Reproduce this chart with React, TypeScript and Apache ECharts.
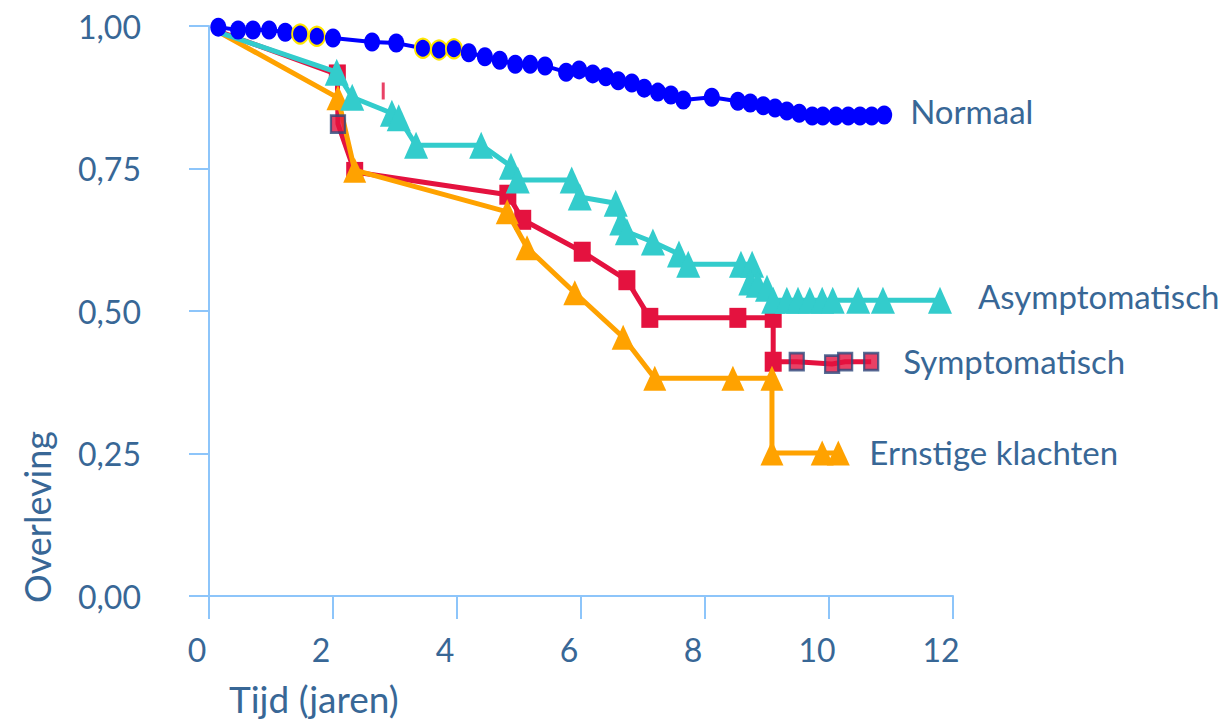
import React, { useEffect, useRef } from "react";
import * as echarts from "echarts";

// [tijd (jaren), overleving]
const normaal: [number, number][] = [
  [0.15, 0.998], [0.47, 0.993], [0.71, 0.993], [0.97, 0.993], [1.23, 0.989],
  [1.47, 0.986], [1.74, 0.982], [2.0, 0.979], [2.63, 0.972], [3.02, 0.97],
  [3.45, 0.961], [3.71, 0.958], [3.95, 0.96], [4.19, 0.953], [4.45, 0.946],
  [4.69, 0.94], [4.94, 0.933], [5.18, 0.933], [5.42, 0.93], [5.76, 0.919],
  [5.97, 0.923], [6.19, 0.916], [6.4, 0.911], [6.6, 0.904], [6.82, 0.9],
  [7.02, 0.891], [7.24, 0.884], [7.45, 0.879], [7.65, 0.87], [8.11, 0.875],
  [8.53, 0.868], [8.73, 0.865], [8.94, 0.86], [9.13, 0.856], [9.32, 0.851],
  [9.52, 0.847], [9.73, 0.842], [9.9, 0.842], [10.11, 0.842], [10.31, 0.842],
  [10.5, 0.842], [10.69, 0.842], [10.89, 0.844],
];
const normaalRing = [5, 6, 10, 11, 12];

const asymptomatisch: [number, number][] = [
  [0.1, 0.991], [2.06, 0.919], [2.31, 0.875], [2.95, 0.847], [3.06, 0.839],
  [3.34, 0.791], [4.39, 0.791], [4.87, 0.754], [4.98, 0.73], [5.85, 0.73],
  [5.98, 0.7], [6.56, 0.689], [6.65, 0.656], [6.74, 0.639], [7.16, 0.621],
  [7.58, 0.6], [7.73, 0.582], [8.58, 0.582], [8.76, 0.582], [8.73, 0.551],
  [8.85, 0.547], [9.0, 0.54], [9.1, 0.519], [9.32, 0.519], [9.5, 0.519],
  [9.69, 0.519], [9.89, 0.519], [10.06, 0.519], [10.47, 0.519], [10.87, 0.519],
  [11.79, 0.519],
];

const symptomatisch: [number, number][] = [
  [0.1, 0.993], [2.07, 0.915], [2.08, 0.828], [2.35, 0.744], [4.82, 0.704],
  [5.06, 0.66], [6.02, 0.604], [6.74, 0.554], [7.11, 0.488], [8.53, 0.488],
  [9.1, 0.488], [9.1, 0.411], [9.48, 0.411], [10.05, 0.407], [10.26, 0.411],
  [10.68, 0.411],
];
const symptomatischCensored = [2, 12, 13, 14, 15];
const symptomatischTick: [number, number][] = [[2.81, 0.886]];

const ernstig: [number, number][] = [
  [0.1, 0.993], [2.08, 0.874], [2.35, 0.747], [4.81, 0.674], [5.13, 0.611],
  [5.9, 0.532], [6.68, 0.454], [7.19, 0.382], [8.45, 0.382], [9.08, 0.382],
  [9.08, 0.251], [9.89, 0.251], [10.15, 0.251],
];

const seriesNames = ["Normaal", "Asymptomatisch", "Symptomatisch", "Ernstige klachten"];
const xTitle = "Tijd (jaren)";
const yTitle = "Overleving";

const TEXT = "#386796";
const AXIS = "#8DC5FA";
const FONT = "Lato, 'Liberation Sans', sans-serif";

export default function App() {
  const ref = useRef<HTMLDivElement>(null);
  useEffect(() => {
    document.body.style.margin = "0";
    const chart = echarts.init(ref.current!, null, { renderer: "svg" });

    const labelStyle = (distance: number, dy: number) => ({
      show: true,
      formatter: "{a}",
      distance,
      offset: [0, dy],
      color: TEXT,
      fontSize: 33,
      fontFamily: FONT,
    });

    chart.setOption({
      animation: false,
      grid: { left: 209, right: 273, top: 26, bottom: 127, containLabel: false },
      xAxis: {
        type: "value",
        min: 0,
        max: 12,
        interval: 2,
        axisLine: { show: true, lineStyle: { color: AXIS, width: 2 } },
        axisTick: { show: true, length: 23, lineStyle: { color: AXIS, width: 2 } },
        splitLine: { show: false },
        axisLabel: {
          color: TEXT,
          fontSize: 32,
          fontFamily: FONT,
          margin: 37,
          padding: [0, 24, 0, 0],
        },
      },
      yAxis: {
        type: "value",
        min: 0,
        max: 1,
        interval: 0.25,
        axisLine: { show: true, lineStyle: { color: AXIS, width: 2 } },
        axisTick: { show: true, length: 20, lineStyle: { color: AXIS, width: 2 } },
        splitLine: { show: false },
        axisLabel: {
          color: TEXT,
          fontSize: 32,
          fontFamily: FONT,
          margin: 68,
          formatter: (v: number) => v.toFixed(2).replace(".", ","),
        },
      },
      graphic: [
        {
          type: "text",
          x: 37,
          y: 517,
          rotation: Math.PI / 2,
          style: {
            text: yTitle,
            fill: TEXT,
            font: `36px ${FONT}`,
            textAlign: "center",
            textVerticalAlign: "middle",
          },
        },
        {
          type: "text",
          x: 229,
          y: 698,
          style: {
            text: xTitle,
            fill: TEXT,
            font: `37px ${FONT}`,
            textAlign: "left",
            textVerticalAlign: "middle",
          },
        },
      ],
      series: [
        {
          name: seriesNames[2],
          type: "line",
          z: 2,
          data: symptomatisch.map((p, i) =>
            i === 0 || symptomatischCensored.includes(i)
              ? { value: p, symbol: "none" }
              : { value: p }
          ),
          symbol: "rect",
          symbolSize: [17, 20],
          itemStyle: { color: "#E4123F" },
          lineStyle: { color: "#E4123F", width: 5 },
          endLabel: labelStyle(32, -1),
        },
        {
          name: seriesNames[2] + " gecensureerd",
          type: "scatter",
          z: 5,
          data: symptomatischCensored.map((i) => symptomatisch[i]),
          symbol: "rect",
          symbolSize: [14, 17],
          itemStyle: { color: "#E4123F", borderColor: "#2E4A7D", borderWidth: 2.5 },
        },
        {
          name: seriesNames[2] + " tick",
          type: "scatter",
          z: 2,
          data: symptomatischTick,
          symbol: "rect",
          symbolSize: [3, 17],
          itemStyle: { color: "#E4123F" },
        },
        {
          name: seriesNames[3],
          type: "line",
          z: 3,
          data: ernstig.map((p, i) => (i === 0 ? { value: p, symbol: "none" } : { value: p })),
          symbol: "triangle",
          symbolSize: [23, 25],
          itemStyle: { color: "#FFA200" },
          lineStyle: { color: "#FFA200", width: 5 },
          endLabel: labelStyle(31, -1),
        },
        {
          name: seriesNames[1],
          type: "line",
          z: 4,
          data: asymptomatisch.map((p, i) => (i === 0 ? { value: p, symbol: "none" } : { value: p })),
          symbol: "triangle",
          symbolSize: [24, 27],
          itemStyle: { color: "#33CCCC" },
          lineStyle: { color: "#33CCCC", width: 5 },
          endLabel: labelStyle(38, -4),
        },
        {
          name: seriesNames[0],
          type: "line",
          z: 6,
          data: normaal.map((p, i) =>
            normaalRing.includes(i)
              ? { value: p, itemStyle: { color: "#0000FF", borderColor: "#FFE600", borderWidth: 2 } }
              : { value: p }
          ),
          symbol: "circle",
          symbolSize: [16, 19],
          itemStyle: { color: "#0000FF" },
          lineStyle: { color: "#0000FF", width: 4 },
          endLabel: labelStyle(26, -4),
        },
      ],
    });
    return () => chart.dispose();
  }, []);
  return <div ref={ref} style={{ width: 1226, height: 723 }} />;
}
